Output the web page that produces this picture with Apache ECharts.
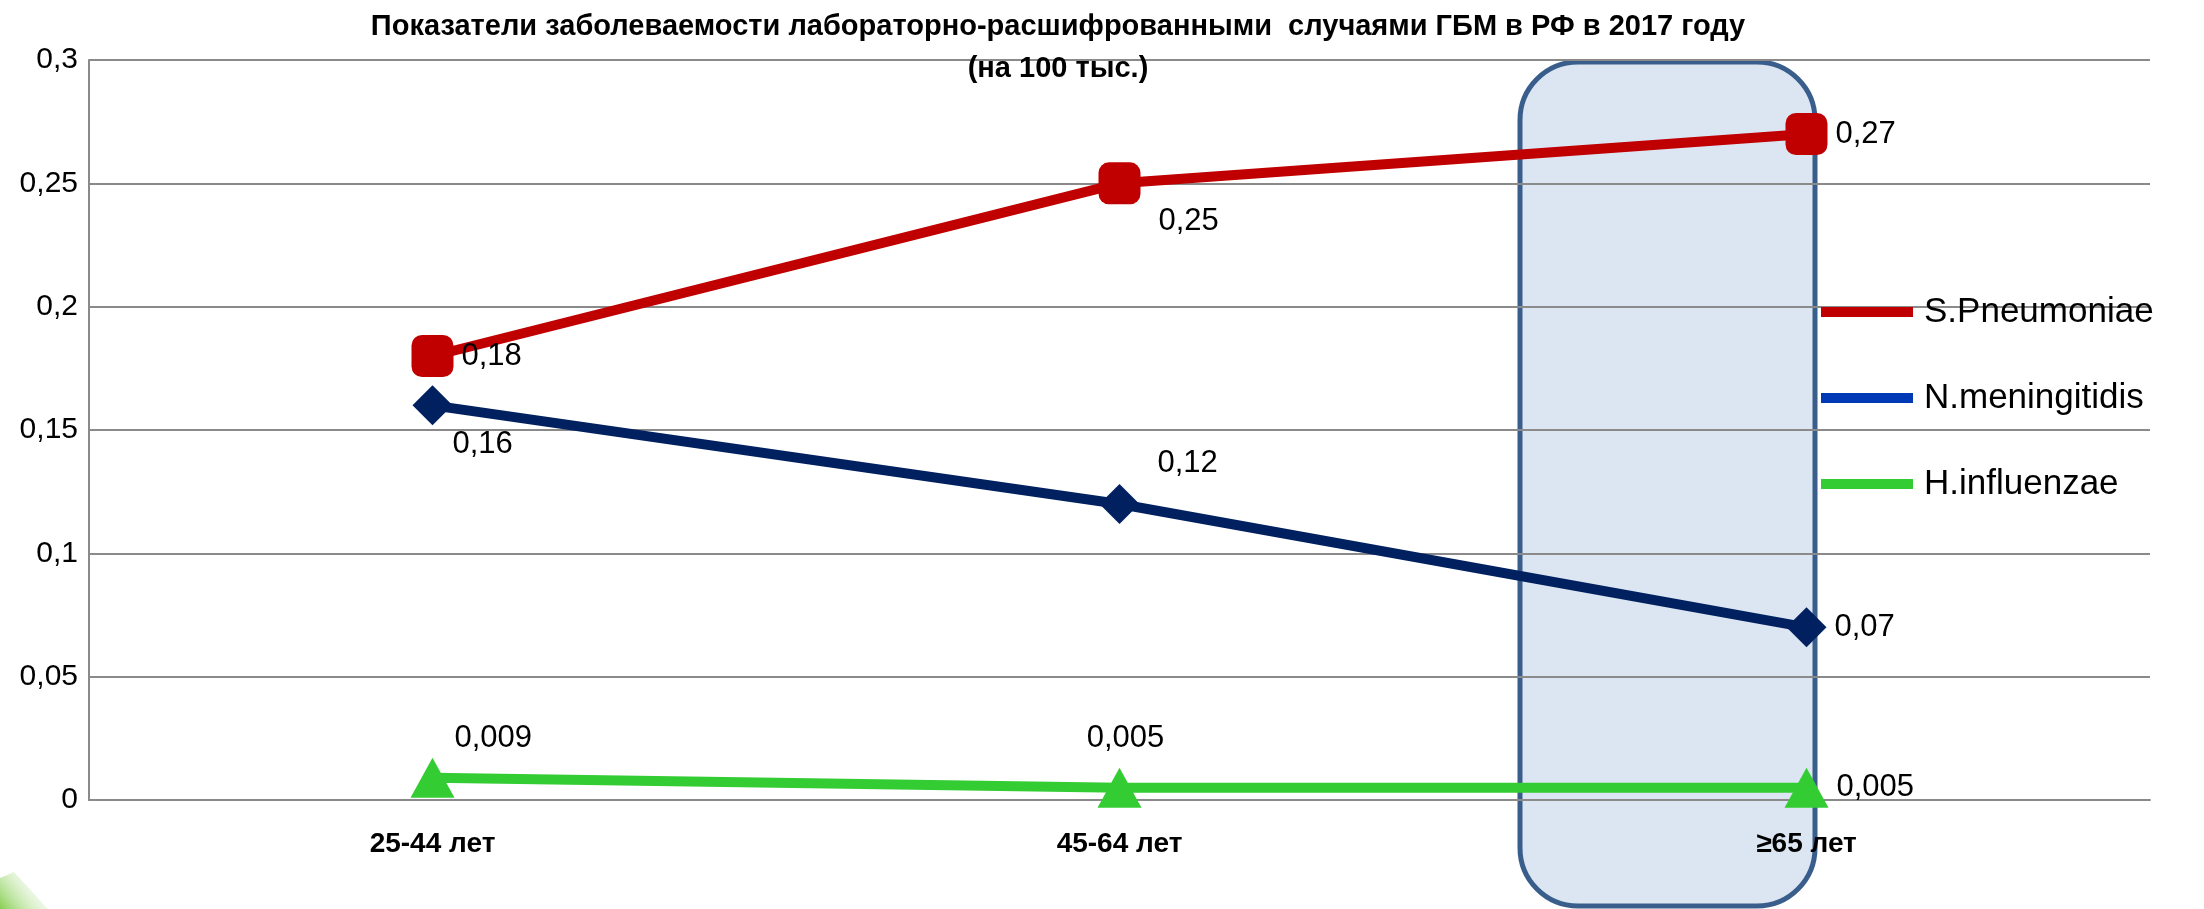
<!DOCTYPE html>
<html>
<head>
<meta charset="utf-8">
<script src="https://cdn.jsdelivr.net/npm/echarts@6/dist/echarts.min.js"></script>
<style>
  html, body { margin: 0; padding: 0; background: #fff; }
  #chart { width: 2204px; height: 909px; }
</style>
</head>
<body>
<div id="chart"></div>
<script>
// Age groups and incidence per 100k
const categories = ['25-44 лет', '45-64 лет', '≥65 лет'];
const sPneumoniae = [0.18, 0.25, 0.27];
const nMeningitidis = [0.16, 0.12, 0.07];
const hInfluenzae = [0.009, 0.005, 0.005];
const seriesNames = ['S.Pneumoniae', 'N.meningitidis', 'H.influenzae'];
const yMin = 0, yMax = 0.3, yStep = 0.05;

const SANS = '"Liberation Sans", Arial, sans-serif';

const comma = v => String(+(+v).toFixed(3)).replace('.', ',');

// per-point label placement for each line
function withLabels(values, places) {
  return values.map((v, i) => ({
    value: v,
    label: Object.assign({ show: true }, places[i])
  }));
}
const labelBase = {
  fontFamily: SANS, fontSize: 31, color: '#000',
  formatter: p => comma(p.value)
};

const chart = echarts.init(document.getElementById('chart'));
chart.setOption({
  animation: false,
  backgroundColor: '#fff',
  title: {
    text: 'Показатели заболеваемости лабораторно-расшифрованными  случаями ГБМ в РФ в 2017 году\n(на 100 тыс.)',
    left: 1058, top: 6, padding: 0,
    textAlign: 'center',
    textStyle: { fontFamily: SANS, fontWeight: 'bold', fontSize: 29, lineHeight: 42, color: '#000' }
  },
  graphic: [
    {
      type: 'rect', z: -10,
      shape: { x: 1520, y: 62, width: 295, height: 844, r: 58 },
      style: { fill: '#dce6f2', stroke: '#3a5e8c', lineWidth: 5 }
    },
    {
      type: 'polygon', z: -10,
      shape: { points: [[0, 909], [0, 878], [14, 872], [48, 909]] },
      style: {
        fill: new echarts.graphic.LinearGradient(0, 1, 1, 0, [
          { offset: 0, color: 'rgba(120,200,60,0.9)' },
          { offset: 1, color: 'rgba(255,255,255,0)' }
        ])
      }
    }
  ],
  legend: {
    orient: 'vertical',
    left: 1816, top: 279,
    itemWidth: 92, itemHeight: 10, itemGap: 30,
    icon: 'rect',
    data: [
      { name: seriesNames[0] },
      { name: seriesNames[1], itemStyle: { color: '#0039b5' } },
      { name: seriesNames[2] }
    ],
    textStyle: { fontFamily: SANS, fontSize: 35, lineHeight: 56, color: '#000', padding: [0, 0, 0, 6] }
  },
  grid: { left: 89, right: 54, top: 60, bottom: 109, containLabel: false },
  xAxis: {
    type: 'category',
    data: categories,
    boundaryGap: true,
    axisLine: { lineStyle: { color: '#8a8a8a', width: 2 } },
    axisTick: { show: false },
    axisLabel: { fontFamily: SANS, fontWeight: 'bold', fontSize: 28, color: '#000', margin: 30 }
  },
  yAxis: {
    type: 'value',
    min: yMin, max: yMax, interval: yStep,
    axisLine: { show: true, lineStyle: { color: '#8a8a8a', width: 2 } },
    axisTick: { show: false },
    splitLine: { lineStyle: { color: '#8a8a8a', width: 2 } },
    axisLabel: { fontFamily: SANS, fontSize: 30, color: '#000', margin: 11, formatter: v => comma(v) }
  },
  series: [
    {
      name: seriesNames[0], type: 'line',
      data: withLabels(sPneumoniae, [
        { position: 'right', distance: 8 },
        { position: 'right', distance: 8, offset: [10, 38] },
        { position: 'right', distance: 8 }
      ]),
      symbol: 'roundRect', symbolSize: 42,
      lineStyle: { color: '#c00000', width: 10 },
      itemStyle: { color: '#c00000' },
      label: labelBase
    },
    {
      name: seriesNames[1], type: 'line',
      data: withLabels(nMeningitidis, [
        { position: 'right', distance: 8, offset: [-8, 39] },
        { position: 'right', distance: 8, offset: [10, -41] },
        { position: 'right', distance: 8 }
      ]),
      symbol: 'diamond', symbolSize: 40,
      lineStyle: { color: '#002060', width: 10 },
      itemStyle: { color: '#002060' },
      label: labelBase
    },
    {
      name: seriesNames[2], type: 'line',
      data: withLabels(hInfluenzae, [
        { position: 'right', distance: 8, offset: [-8, -39] },
        { position: 'top', distance: 14, offset: [6, 0] },
        { position: 'right', distance: 8 }
      ]),
      symbol: 'triangle', symbolSize: [44, 40],
      lineStyle: { color: '#33cc33', width: 10 },
      itemStyle: { color: '#33cc33' },
      label: labelBase
    }
  ]
});
</script>
</body>
</html>
